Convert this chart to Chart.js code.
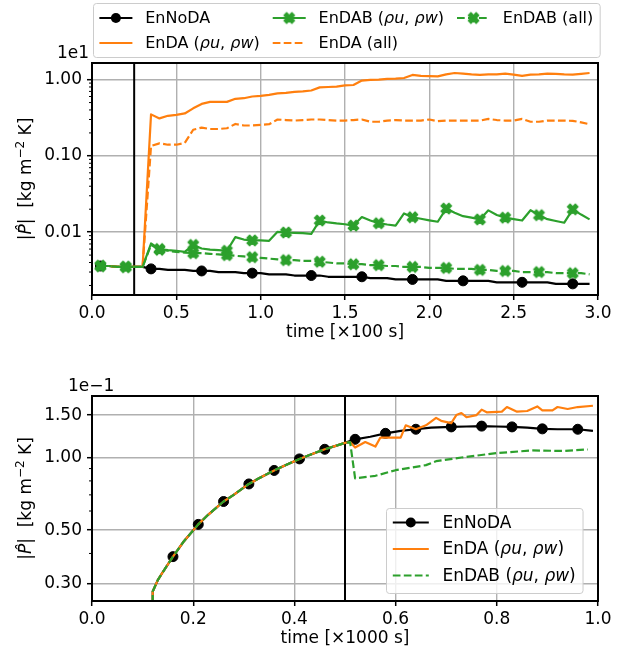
<!DOCTYPE html>
<html>
<head>
<meta charset="utf-8">
<script src="https://cdn.jsdelivr.net/npm/chart.js@4.4.0/dist/chart.umd.min.js"></script>
<style>
  html, body { margin: 0; padding: 0; background: #fff; }
  #wrap { position: relative; width: 622px; height: 655px; }
  #wrap canvas { position: absolute; left: 0; top: 0; }
</style>
</head>
<body>
<div id="wrap">
  <canvas id="topChart" width="622" height="655"></canvas>
  <canvas id="bottomChart" width="622" height="655"></canvas>
</div>
<script>
// ---- upper panel: first 300 s, one sample every 5 s (time in units of 100 s) ----
const timeTop = [
  0.05, 0.10, 0.15, 0.20, 0.25, 0.30, 0.35, 0.40, 0.45, 0.50,
  0.55, 0.60, 0.65, 0.70, 0.75, 0.80, 0.85, 0.90, 0.95, 1.00,
  1.05, 1.10, 1.15, 1.20, 1.25, 1.30, 1.35, 1.40, 1.45, 1.50,
  1.55, 1.60, 1.65, 1.70, 1.75, 1.80, 1.85, 1.90, 1.95, 2.00,
  2.05, 2.10, 2.15, 2.20, 2.25, 2.30, 2.35, 2.40, 2.45, 2.50,
  2.55, 2.60, 2.65, 2.70, 2.75, 2.80, 2.85, 2.90, 2.95
];
const enNoDATop = [
  0.0036, 0.0036, 0.0035, 0.0035, 0.0035, 0.0035, 0.0033, 0.0033, 0.0032, 0.0032,
  0.0032, 0.0031, 0.0031, 0.0031, 0.0030, 0.0030, 0.0030, 0.0029, 0.0029, 0.0029,
  0.0028, 0.0028, 0.0028, 0.0027, 0.0027, 0.0027, 0.0027, 0.0026, 0.0026, 0.0026,
  0.0026, 0.0026, 0.0025, 0.0025, 0.0025, 0.0024, 0.0024, 0.0024, 0.0024, 0.0024,
  0.0024, 0.0023, 0.0023, 0.0023, 0.0023, 0.0023, 0.0023, 0.0022, 0.0022, 0.0022,
  0.0022, 0.0022, 0.0022, 0.0022, 0.0021, 0.0021, 0.0021, 0.0021, 0.0021
];
const enDAuwTop = [
  0.0036, 0.0036, 0.0035, 0.0035, 0.0035, 0.0035, 0.35, 0.31, 0.335, 0.345,
  0.36, 0.42, 0.48, 0.51, 0.51, 0.51, 0.56, 0.57, 0.60, 0.61,
  0.63, 0.66, 0.67, 0.69, 0.70, 0.72, 0.79, 0.80, 0.81, 0.84,
  0.85, 0.97, 0.99, 1.00, 1.02, 1.03, 1.05, 1.15, 1.12, 1.11,
  1.10, 1.17, 1.22, 1.20, 1.17, 1.15, 1.17, 1.17, 1.20, 1.16,
  1.12, 1.16, 1.17, 1.20, 1.19, 1.17, 1.16, 1.19, 1.22
];
const enDABuwTop = [
  0.0036, 0.0036, 0.0035, 0.0035, 0.0035, 0.0035, 0.0071, 0.0060, 0.0058, 0.0057,
  0.0055, 0.0068, 0.0061, 0.0059, 0.0058, 0.0057, 0.0086, 0.0080, 0.0078, 0.0078,
  0.0077, 0.0101, 0.0099, 0.0098, 0.0097, 0.0095, 0.0142, 0.0134, 0.0130, 0.0127,
  0.0122, 0.0158, 0.0142, 0.0131, 0.0126, 0.0122, 0.0176, 0.0157, 0.0150, 0.0143,
  0.0137, 0.0204, 0.0180, 0.0162, 0.0155, 0.0147, 0.0193, 0.0168, 0.0155, 0.0148,
  0.0142, 0.0194, 0.0167, 0.0148, 0.0140, 0.0133, 0.0199, 0.0170, 0.0147
];
const enDAallTop = [
  0.0036, 0.0036, 0.0035, 0.0035, 0.0035, 0.0035, 0.135, 0.146, 0.140, 0.140,
  0.148, 0.220, 0.235, 0.225, 0.225, 0.230, 0.262, 0.250, 0.250, 0.255,
  0.260, 0.300, 0.295, 0.290, 0.295, 0.300, 0.300, 0.295, 0.290, 0.290,
  0.295, 0.300, 0.280, 0.280, 0.290, 0.295, 0.290, 0.290, 0.290, 0.300,
  0.285, 0.290, 0.290, 0.290, 0.290, 0.290, 0.305, 0.295, 0.290, 0.290,
  0.305, 0.280, 0.280, 0.290, 0.290, 0.290, 0.288, 0.275, 0.260
];
const enDABallTop = [
  0.0036, 0.0036, 0.0035, 0.0035, 0.0035, 0.0035, 0.0068, 0.0059, 0.0057, 0.0055,
  0.0054, 0.0053, 0.0053, 0.0052, 0.0051, 0.0050, 0.0049, 0.0048, 0.0047, 0.0046,
  0.0045, 0.0044, 0.0043, 0.0043, 0.0042, 0.0042, 0.0041, 0.0040, 0.0039, 0.0039,
  0.0038, 0.0038, 0.0037, 0.0037, 0.0036, 0.0036, 0.0035, 0.0035, 0.0035, 0.0034,
  0.0034, 0.0034, 0.0033, 0.0033, 0.0033, 0.0032, 0.0032, 0.0031, 0.0031, 0.0031,
  0.0030, 0.0030, 0.0030, 0.0030, 0.0029, 0.0029, 0.0029, 0.0029, 0.0028
];
const noDAMarksTop = [0.05, 0.35, 0.65, 0.95, 1.30, 1.60, 1.90, 2.20, 2.55, 2.85];
const dabMarksTop = [0.05, 0.20, 0.40, 0.60, 0.80, 0.95, 1.15, 1.35, 1.55, 1.70, 1.90, 2.10, 2.30, 2.45, 2.65, 2.85];
const daStartTop = 0.25;
const xTicksTop = [0.0, 0.5, 1.0, 1.5, 2.0, 2.5, 3.0];
const yTicksTop = [0.01, 0.1, 1];

// ---- lower panel: spin-up to 1000 s (time in units of 1000 s) ----
// all three runs share the spin-up until assimilation starts at 0.5
const spinTime = [0.12, 0.12, 0.13, 0.14, 0.16, 0.18, 0.21, 0.23, 0.26, 0.28, 0.31, 0.33, 0.36, 0.38, 0.41, 0.43, 0.46, 0.48, 0.50];
const spinValue = [0.25, 0.278, 0.31, 0.335, 0.388, 0.445, 0.528, 0.58, 0.657, 0.70, 0.777, 0.82, 0.884, 0.925, 0.987, 1.025, 1.082, 1.115, 1.15];
const noDATimeLate = [0.52, 0.55, 0.58, 0.61, 0.64, 0.67, 0.71, 0.74, 0.77, 0.80, 0.83, 0.86, 0.89, 0.92, 0.96, 0.99];
const noDAValueLate = [1.19, 1.22, 1.26, 1.29, 1.31, 1.33, 1.34, 1.345, 1.35, 1.345, 1.34, 1.33, 1.315, 1.31, 1.31, 1.29];
const daTimeLate = [0.51, 0.52, 0.54, 0.56, 0.57, 0.61, 0.62, 0.64, 0.66, 0.68, 0.69, 0.71, 0.72, 0.73, 0.74,
                    0.76, 0.77, 0.78, 0.81, 0.82, 0.84, 0.86, 0.88, 0.89, 0.91, 0.92, 0.94, 0.96, 0.99];
const daValueLate = [1.16, 1.10, 1.16, 1.11, 1.21, 1.21, 1.36, 1.31, 1.36, 1.46, 1.42, 1.39, 1.50, 1.53, 1.47,
                     1.50, 1.58, 1.54, 1.55, 1.62, 1.55, 1.56, 1.63, 1.57, 1.57, 1.62, 1.59, 1.62, 1.64];
const dabTimeLate = [0.51, 0.52, 0.56, 0.60, 0.66, 0.68, 0.73, 0.80, 0.87, 0.93, 0.98];
const dabValueLate = [1.16, 0.82, 0.84, 0.886, 0.93, 0.966, 1.00, 1.044, 1.07, 1.065, 1.08];
const noDAMarksBottom = [0.16, 0.21, 0.26, 0.31, 0.36, 0.41, 0.46, 0.52, 0.58, 0.64, 0.71, 0.77, 0.83, 0.89, 0.96];
const daStartBottom = 0.5;
const xTicksBottom = [0.0, 0.2, 0.4, 0.6, 0.8, 1.0];
const yTicksBottom = [0.3, 0.5, 1.0, 1.5];

const FONT = '"DejaVu Sans", sans-serif';
const ORANGE = '#ff7f0e';
const GREEN = '#2ca02c';
const DASH = [7.7, 3.3];
const LINE_W = 2.2;

// filled "X" marker (same outline as matplotlib's 'X')
function makeXMarker(color, size) {
  const c = document.createElement('canvas');
  c.width = c.height = Math.ceil(size + 4);
  const g = c.getContext('2d');
  const pts = [[-1, -2], [0, -1], [1, -2], [2, -1], [1, 0], [2, 1], [1, 2], [0, 1], [-1, 2], [-2, 1], [-1, 0], [-2, -1]];
  const s = size / 4;
  g.translate(c.width / 2, c.height / 2);
  g.beginPath();
  pts.forEach(([px, py], i) => i ? g.lineTo(px * s, py * s) : g.moveTo(px * s, py * s));
  g.closePath();
  g.fillStyle = color;
  g.fill();
  g.lineWidth = 1.4;
  g.lineJoin = 'round';
  g.strokeStyle = color;
  g.stroke();
  return c;
}
const xMarker = makeXMarker(GREEN, 10.5);

const uw = name => [[name + ' (', false], ['ρu', true], [', ', false], ['ρw', true], [')', false]];
const at = (marks, r) => ctx => (ctx.raw && marks.includes(ctx.raw.x)) ? r : 0;

function series(xs, ys, style) {
  return Object.assign({
    data: xs.map((x, i) => ({ x: x, y: ys[i] })),
    borderWidth: LINE_W,
    tension: 0,
    fill: false,
    borderJoinStyle: 'round',
    pointRadius: 0,
    pointBorderWidth: 1
  }, style);
}

const topSets = [
  series(timeTop, enNoDATop, { label: 'EnNoDA', labelSegs: [['EnNoDA', false]], borderColor: 'black',
    pointStyle: 'circle', pointBackgroundColor: 'black', pointBorderColor: 'black',
    pointRadius: at(noDAMarksTop, 5), legendMarker: 'circle', order: 5 }),
  series(timeTop, enDAuwTop, { label: 'EnDA (ρu, ρw)', labelSegs: uw('EnDA'), borderColor: ORANGE, order: 4 }),
  series(timeTop, enDABuwTop, { label: 'EnDAB (ρu, ρw)', labelSegs: uw('EnDAB'), borderColor: GREEN,
    pointStyle: xMarker, pointRadius: at(dabMarksTop, 5), legendMarker: xMarker, order: 3 }),
  series(timeTop, enDAallTop, { label: 'EnDA (all)', labelSegs: [['EnDA (all)', false]], borderColor: ORANGE,
    borderDash: DASH, order: 2 }),
  series(timeTop, enDABallTop, { label: 'EnDAB (all)', labelSegs: [['EnDAB (all)', false]], borderColor: GREEN,
    borderDash: DASH, pointStyle: xMarker, pointRadius: at(dabMarksTop, 5), legendMarker: xMarker, order: 1 })
];

const bottomSets = [
  series(spinTime.concat(noDATimeLate), spinValue.concat(noDAValueLate), { label: 'EnNoDA', labelSegs: [['EnNoDA', false]],
    borderColor: 'black', pointStyle: 'circle', pointBackgroundColor: 'black', pointBorderColor: 'black',
    pointRadius: at(noDAMarksBottom, 5), legendMarker: 'circle', order: 3 }),
  series(spinTime.concat(daTimeLate), spinValue.concat(daValueLate), { label: 'EnDA (ρu, ρw)', labelSegs: uw('EnDA'),
    borderColor: ORANGE, order: 2 }),
  series(spinTime.concat(dabTimeLate), spinValue.concat(dabValueLate), { label: 'EnDAB (ρu, ρw)', labelSegs: uw('EnDAB'),
    borderColor: GREEN, borderDash: DASH, order: 1 })
];

function richWidth(ctx, segs, size) {
  let w = 0;
  for (const [t, it] of segs) {
    ctx.font = (it ? 'italic ' : '') + size + 'px ' + FONT;
    w += ctx.measureText(t).width;
  }
  return w;
}

function drawRich(ctx, segs, x, y, size) {
  for (const [t, it] of segs) {
    ctx.font = (it ? 'italic ' : '') + size + 'px ' + FONT;
    ctx.fillText(t, x, y);
    x += ctx.measureText(t).width;
  }
}

function drawMarker(ctx, m, x, y) {
  if (m === 'circle') {
    ctx.beginPath();
    ctx.arc(x, y, 5, 0, Math.PI * 2);
    ctx.fillStyle = 'black';
    ctx.fill();
  } else if (m) {
    ctx.drawImage(m, x - m.width / 2, y - m.height / 2);
  }
}

function roundBox(ctx, x, y, w, h, r) {
  ctx.beginPath();
  ctx.moveTo(x + r, y);
  ctx.arcTo(x + w, y, x + w, y + h, r);
  ctx.arcTo(x + w, y + h, x, y + h, r);
  ctx.arcTo(x, y + h, x, y, r);
  ctx.arcTo(x, y, x + w, y, r);
  ctx.closePath();
}

function drawLegend(ctx, sets, L) {
  ctx.save();
  const pad = 0.4 * L.size, hpad = 0.8 * L.size;
  const colW = L.columns.map(col => Math.max(...col.map(i => richWidth(ctx, sets[i].labelSegs, L.size))));
  const width = 2 * pad + colW.reduce((a, b) => a + b, 0) +
    L.columns.length * (L.handleLen + hpad) + (L.columns.length - 1) * L.colSpacing;
  roundBox(ctx, L.x + 0.5, L.y + 0.5, width, L.h, 3);
  ctx.fillStyle = 'rgba(255,255,255,0.8)';
  ctx.fill();
  ctx.strokeStyle = '#cccccc';
  ctx.lineWidth = 1;
  ctx.stroke();
  ctx.textBaseline = 'middle';
  let cx = L.x + pad;
  L.columns.forEach((col, c) => {
    col.forEach((i, r) => {
      const ds = sets[i];
      const cy = L.y + L.firstRow + r * L.rowH;
      ctx.strokeStyle = ds.borderColor;
      ctx.lineWidth = ds.borderWidth;
      ctx.setLineDash(ds.borderDash || []);
      ctx.beginPath();
      ctx.moveTo(cx, cy);
      ctx.lineTo(cx + L.handleLen, cy);
      ctx.stroke();
      ctx.setLineDash([]);
      drawMarker(ctx, ds.legendMarker, cx + L.handleLen / 2, cy);
      ctx.fillStyle = 'black';
      drawRich(ctx, ds.labelSegs, cx + L.handleLen + hpad, cy + 1, L.size);
    });
    cx += L.handleLen + hpad + colW[c] + L.colSpacing;
  });
  ctx.restore();
}

function drawYLabel(ctx, cx, cy) {
  const size = 17, sup = 12;
  const segs = [['|', '', size, 0], ['P\u0302', 'italic ', size, 0], ['|', '', size, 0],
    ['  [kg m', '', size, 0], ['\u22122', '', sup, -7], [' K]', '', size, 0]];
  ctx.save();
  let total = 0;
  for (const s of segs) { ctx.font = s[1] + s[2] + 'px ' + FONT; total += ctx.measureText(s[0]).width; }
  ctx.translate(cx, cy);
  ctx.rotate(-Math.PI / 2);
  ctx.fillStyle = 'black';
  ctx.textBaseline = 'alphabetic';
  let x = -total / 2;
  for (const s of segs) {
    ctx.font = s[1] + s[2] + 'px ' + FONT;
    ctx.fillText(s[0], x, 6 + s[3]);
    x += ctx.measureText(s[0]).width;
  }
  ctx.restore();
}

// frame, minor log ticks, assimilation-start line, labels and legend
function panelDecor(cfg) {
  return {
    id: 'panelDecor',
    beforeDatasetsDraw(chart) {
      const { ctx, chartArea: a, scales: { x } } = chart;
      const px = x.getPixelForValue(cfg.vline);
      ctx.save();
      ctx.strokeStyle = 'black';
      ctx.lineWidth = 2;
      ctx.beginPath();
      ctx.moveTo(px, a.top);
      ctx.lineTo(px, a.bottom);
      ctx.stroke();
      ctx.restore();
    },
    afterDatasetsDraw(chart) {
      const { ctx, chartArea: a, scales: { y } } = chart;
      ctx.save();
      ctx.strokeStyle = 'black';
      ctx.lineWidth = 1;
      const lo = Math.floor(Math.log10(y.min)), hi = Math.ceil(Math.log10(y.max));
      for (let d = lo; d < hi; d++) {
        for (let k = 2; k < 10; k++) {
          const v = k * Math.pow(10, d);
          if (v <= y.min || v >= y.max || cfg.yTicks.some(t => Math.abs(t - v) < v * 1e-6)) continue;
          const py = y.getPixelForValue(v);
          ctx.beginPath();
          ctx.moveTo(a.left, py);
          ctx.lineTo(a.left - 3, py);
          ctx.stroke();
        }
      }
      ctx.lineWidth = 2;
      ctx.strokeRect(a.left, a.top, a.right - a.left, a.bottom - a.top);
      ctx.restore();
    },
    afterDraw(chart) {
      const { ctx, chartArea: a } = chart;
      drawYLabel(ctx, 25, (a.top + a.bottom) / 2);
      ctx.save();
      ctx.fillStyle = 'black';
      ctx.font = '17px ' + FONT;
      ctx.textBaseline = 'alphabetic';
      ctx.fillText(cfg.offsetText, cfg.offsetX, a.top - 5);
      ctx.restore();
      drawLegend(ctx, chart.data.datasets, cfg.legend);
    }
  };
}

function axes(cfg) {
  const grid = { color: '#b0b0b0', lineWidth: 1.4, drawTicks: true, tickLength: 5, tickColor: 'black', tickWidth: 1.5 };
  const font = { family: FONT, size: 17 };
  return {
    x: {
      type: 'linear', min: cfg.xTicks[0], max: cfg.xTicks[cfg.xTicks.length - 1],
      afterBuildTicks: s => { s.ticks = cfg.xTicks.map(v => ({ value: v })); },
      afterFit: s => { s.height = cfg.xAxisHeight; },
      grid: grid,
      border: { display: false },
      ticks: { color: 'black', font: font, padding: 3, maxRotation: 0, autoSkip: false, callback: v => v.toFixed(1) },
      title: { display: true, text: cfg.xTitle, color: 'black', font: font, padding: 0 }
    },
    y: {
      type: 'logarithmic', min: cfg.yMin, max: cfg.yMax,
      afterBuildTicks: s => { s.ticks = cfg.yTicks.map(v => ({ value: v })); },
      afterFit: s => { s.width = 92; },
      grid: grid,
      border: { display: false },
      ticks: { color: 'black', font: font, padding: 5, autoSkip: false, callback: v => Number(v).toFixed(2) }
    }
  };
}

function panel(id, sets, cfg) {
  return new Chart(document.getElementById(id), {
    type: 'line',
    data: { datasets: sets },
    options: {
      responsive: false,
      animation: false,
      events: [],
      layout: { padding: cfg.padding },
      plugins: { legend: { display: false }, tooltip: { enabled: false } },
      scales: axes(cfg)
    },
    plugins: [panelDecor(cfg)]
  });
}

panel('topChart', topSets, {
  padding: { top: 63, right: 24, bottom: 312, left: 0 },
  xAxisHeight: 48, xTicks: xTicksTop, xTitle: 'time [×100 s]',
  yMin: 0.0015, yMax: 1.65, yTicks: yTicksTop,
  vline: daStartTop, offsetText: '1e1', offsetX: 57,
  legend: { x: 93, y: 3, h: 54, size: 16, handleLen: 33, colSpacing: 13, firstRow: 15, rowH: 25,
            columns: [[0, 1], [2, 3], [4]] }
});

panel('bottomChart', bottomSets, {
  padding: { top: 396, right: 24, bottom: 6, left: 0 },
  xAxisHeight: 48, xTicks: xTicksBottom, xTitle: 'time [×1000 s]',
  yMin: 0.254, yMax: 1.80, yTicks: yTicksBottom,
  vline: daStartBottom, offsetText: '1e\u22121', offsetX: 68,
  legend: { x: 386, y: 508, h: 85, size: 17, handleLen: 36, colSpacing: 0, firstRow: 14.5, rowH: 26.5,
            columns: [[0, 1, 2]] }
});
</script>
</body>
</html>
